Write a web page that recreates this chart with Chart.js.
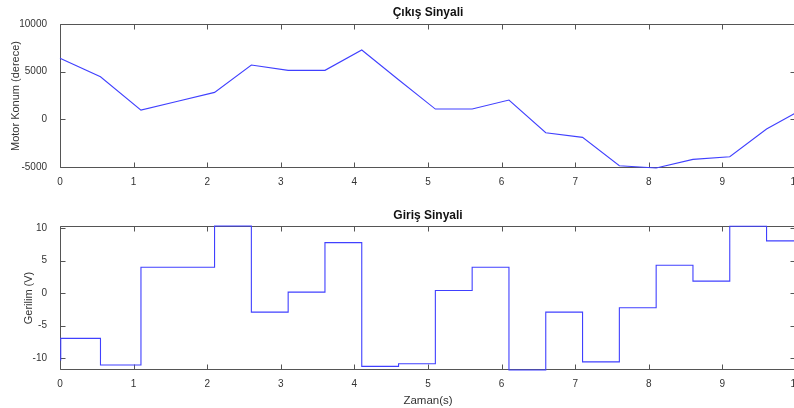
<!DOCTYPE html>
<html>
<head>
<meta charset="utf-8">
<script src="https://cdn.jsdelivr.net/npm/chart.js@4.4.1/dist/chart.umd.min.js"></script>
<style>
  html, body { margin: 0; padding: 0; background: #fff; overflow: hidden; width: 794px; height: 408px; }
  #wrap { position: relative; width: 794px; height: 408px; overflow: hidden; }
  .panel { position: absolute; left: 0; width: 800px; }
  #p1 { top: 0; height: 200px; }
  #p2 { top: 200px; height: 208px; }
</style>
</head>
<body>
<div id="wrap">
  <div class="panel" id="p1"><canvas id="c1" width="800" height="200" style="width:800px;height:200px"></canvas></div>
  <div class="panel" id="p2"><canvas id="c2" width="800" height="208" style="width:800px;height:208px"></canvas></div>
</div>
<script>
// Motor position response (degrees) sampled at each input switching instant
const outputTimes  = [0, 0.55, 1.1, 1.6, 2.1, 2.6, 3.1, 3.6, 4.1, 4.6, 5.1, 5.6, 6.1, 6.6, 7.1, 7.6, 8.1, 8.6, 9.1, 9.6, 10];
const outputValues = [6400, 4470, 975, 1900, 2830, 5695, 5140, 5140, 7270, 4150, 1080, 1080, 2025, -1405, -1890, -4870, -5100, -4195, -3920, -1017, 700];

// Piecewise-constant input voltage (V); each value holds until the next time
const inputTimes  = [0, 0.01, 0.55, 1.1, 2.1, 2.6, 3.1, 3.6, 4.1, 4.6, 5.1, 5.6, 6.1, 6.6, 7.1, 7.6, 8.1, 8.6, 9.1, 9.6, 10];
const inputValues = [-10.3, -6.98, -11.08, 4.0, 10.35, -2.92, 0.15, 7.78, -11.29, -10.88, 0.4, 4.0, -11.85, -2.92, -10.6, -2.26, 4.3, 1.85, 10.3, 8.05, 8.05];

// Axis ticks
const timeTicks   = [0, 1, 2, 3, 4, 5, 6, 7, 8, 9, 10];
const outputTicks = [-5000, 0, 5000, 10000];
const inputTicks  = [-10, -5, 0, 5, 10];

Chart.defaults.font.family = '"Liberation Sans", Arial, Helvetica, sans-serif';
Chart.defaults.color = '#333';

const LINE_COLOR = '#4040ff';
const AXIS_COLOR = '#555';
const TICK_LEN = 5;

// Boxed axes with inward tick marks on all four sides (drawn beneath the data)
const boxAxes = {
  id: 'boxAxes',
  beforeDatasetsDraw(chart) {
    const { ctx, chartArea: a, scales } = chart;
    const L = Math.round(a.left) + 0.5, R = Math.round(a.right) - 0.5;
    const T = Math.round(a.top) + 0.5, B = Math.round(a.bottom) - 0.5;
    ctx.save();
    ctx.strokeStyle = AXIS_COLOR;
    ctx.lineWidth = 1;
    ctx.beginPath();
    ctx.rect(L, T, R - L, B - T);
    scales.x.ticks.forEach(t => {
      const px = Math.round(scales.x.getPixelForValue(t.value)) + 0.5;
      ctx.moveTo(px, B); ctx.lineTo(px, B - TICK_LEN);
      ctx.moveTo(px, T); ctx.lineTo(px, T + TICK_LEN);
    });
    scales.y.ticks.forEach(t => {
      const py = Math.round(scales.y.getPixelForValue(t.value)) + 0.5;
      ctx.moveTo(L, py); ctx.lineTo(L + TICK_LEN, py);
      ctx.moveTo(R, py); ctx.lineTo(R - TICK_LEN, py);
    });
    ctx.stroke();
    ctx.restore();
  }
};

const plainLabel = v => String(v);

function makeChart(canvasId, opts) {
  return new Chart(document.getElementById(canvasId), {
    type: 'line',
    data: {
      datasets: [{
        data: opts.times.map((t, i) => ({ x: t, y: opts.values[i] })),
        borderColor: LINE_COLOR,
        borderWidth: 1.1,
        pointRadius: 0,
        tension: 0,
        fill: false,
        clip: 2,
        stepped: opts.stepped || false
      }]
    },
    options: {
      responsive: false,
      animation: false,
      layout: { padding: { left: 0, right: 4, top: 0, bottom: 0 } },
      plugins: {
        legend: { display: false },
        tooltip: { enabled: false },
        title: {
          display: true,
          text: opts.title,
          fullSize: false,
          color: '#111',
          font: { size: 12, weight: 'bold' },
          padding: opts.titlePadding
        }
      },
      scales: {
        x: {
          type: 'linear',
          min: 0, max: 10,
          grid: { display: false },
          border: { display: false },
          afterBuildTicks: s => { s.ticks = timeTicks.map(v => ({ value: v })); },
          afterFit: s => { s.height = opts.xHeight; s.paddingLeft = 0; s.paddingRight = 0; },
          ticks: { font: { size: 10 }, padding: 0, maxRotation: 0, autoSkip: false, color: '#333', callback: plainLabel },
          title: opts.xTitle ? {
            display: true, text: opts.xTitle, color: '#333',
            font: { size: 11.5 }, padding: { top: 0, bottom: 0 }
          } : { display: false }
        },
        y: {
          type: 'linear',
          min: opts.yMin, max: opts.yMax,
          grid: { display: false },
          border: { display: false },
          afterBuildTicks: s => { s.ticks = opts.yTicks.map(v => ({ value: v })); },
          afterFit: s => { s.width = 60; s.paddingTop = 0; s.paddingBottom = 0; },
          ticks: { font: { size: 10 }, padding: 5, color: '#333', callback: plainLabel },
          title: {
            display: true, text: opts.yTitle, color: '#333',
            font: { size: 11 }, padding: { top: opts.yTitlePad, bottom: 0 }
          }
        }
      }
    },
    plugins: [boxAxes]
  });
}

makeChart('c1', {
  times: outputTimes, values: outputValues,
  title: 'Çıkış Sinyali', titlePadding: { top: 5.3, bottom: 4.3 },
  yMin: -5100, yMax: 10000, yTicks: outputTicks,
  yTitle: 'Motor Konum (derece)', yTitlePad: 9,
  xHeight: 32
});

makeChart('c2', {
  times: inputTimes, values: inputValues, stepped: 'before',
  title: 'Giriş Sinyali', titlePadding: { top: 8.3, bottom: 3.3 },
  yMin: -11.85, yMax: 10.35, yTicks: inputTicks,
  yTitle: 'Gerilim (V)', yTitlePad: 22,
  xHeight: 38, xTitle: 'Zaman(s)'
});
</script>
</body>
</html>
